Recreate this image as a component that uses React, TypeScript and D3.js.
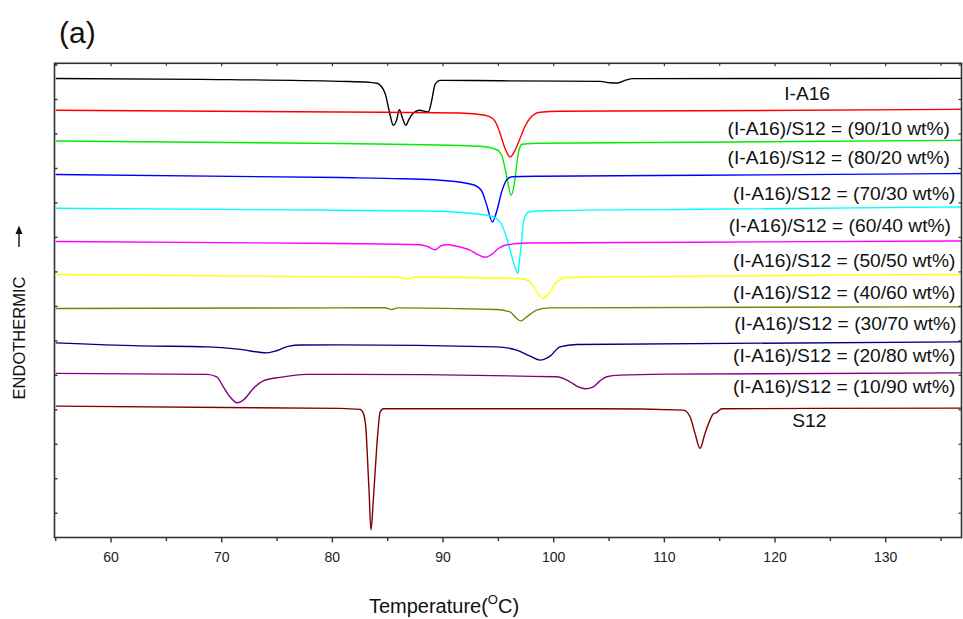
import React from "react";
import * as d3 from "d3";

// ---- Data (Temperature °C, heat flow a.u.) ----
const blackIA16: [number, number][] = [
  [55, 13.61], [68.04, 13.585], [80.69, 13.527], [83.4, 13.498], [84.04, 13.47], [84.76, 13.18],
  [85.12, 12.687], [85.51, 12.252], [85.8, 12.397], [86.05, 12.707], [86.34, 12.455], [86.63, 12.252],
  [86.92, 12.426], [87.32, 12.608], [87.86, 12.687], [88.67, 12.638], [88.98, 12.977], [89.28, 13.44],
  [89.73, 13.556], [95.15, 13.542], [104.19, 13.527], [105.09, 13.484], [105.72, 13.478], [106.44, 13.556],
  [107.17, 13.606], [136.8, 13.614],
];
const red9010: [number, number][] = [
  [55, 12.687], [80.69, 12.638], [91.54, 12.608], [93.8, 12.542], [94.52, 12.44], [94.88, 12.252],
  [95.15, 12.02], [95.6, 11.585], [96.06, 11.333], [96.51, 11.527], [96.96, 11.875], [97.41, 12.223],
  [97.86, 12.455], [98.31, 12.585], [98.77, 12.629], [100.57, 12.658], [113.22, 12.672], [136.8, 12.716],
];
const green8020: [number, number][] = [
  [55, 11.797], [80.69, 11.722], [93.34, 11.643], [94.85, 11.548], [95.3, 11.382], [95.6, 11.006],
  [95.87, 10.571], [96.14, 10.223], [96.42, 10.513], [96.6, 10.948], [96.73, 11.296], [96.91, 11.585],
  [97.14, 11.701], [98.77, 11.73], [113.22, 11.759], [136.8, 11.817],
];
const blue7030: [number, number][] = [
  [55, 10.823], [80.69, 10.736], [86.38, 10.701], [89.73, 10.658], [92.74, 10.527], [93.5, 10.339],
  [93.95, 9.933], [94.46, 9.449], [94.85, 9.759], [95.3, 10.325], [95.76, 10.672], [96.24, 10.759],
  [98.77, 10.774], [113.22, 10.803], [136.8, 10.852],
];
const cyan6040: [number, number][] = [
  [55, 9.846], [80.69, 9.788], [89.73, 9.759], [92.44, 9.701], [94.25, 9.629], [95.15, 9.449],
  [95.76, 8.977], [96.21, 8.455], [96.51, 8.136], [96.75, 7.954], [96.96, 8.484], [97.11, 8.919],
  [97.23, 9.354], [97.51, 9.672], [97.86, 9.745], [99.22, 9.774], [113.22, 9.817], [136.8, 9.884],
];
const magenta5050: [number, number][] = [
  [55, 8.881], [80.69, 8.823], [87.92, 8.788], [88.64, 8.73], [89.28, 8.643], [89.82, 8.759],
  [90.36, 8.788], [91.24, 8.744], [92.44, 8.629], [93.16, 8.498], [93.8, 8.426], [94.43, 8.513],
  [94.97, 8.672], [95.6, 8.773], [97.56, 8.84], [113.22, 8.861], [136.8, 8.898],
];
const yellow4060: [number, number][] = [
  [55, 7.925], [80.69, 7.855], [86.11, 7.846], [86.72, 7.797], [87.29, 7.846], [96.96, 7.808],
  [97.86, 7.71], [98.47, 7.42], [99.06, 7.229], [99.67, 7.42], [100.27, 7.71], [101.18, 7.837],
  [104.19, 7.855], [136.8, 7.925],
];
const olive3070: [number, number][] = [
  [55, 6.939], [80.69, 6.957], [84.76, 6.962], [85.36, 6.91], [85.93, 6.957], [94.85, 6.91],
  [96.05, 6.84], [96.66, 6.649], [97.02, 6.58], [97.56, 6.696], [98.47, 6.89], [99.67, 6.957],
  [136.8, 6.986],
];
const navy2080: [number, number][] = [
  [55, 5.942], [62.62, 5.855], [68.65, 5.826], [71.66, 5.751], [74.07, 5.652], [75.0, 5.72],
  [76.0, 5.84], [77.2, 5.88], [80.69, 5.884], [94.85, 5.826], [96.66, 5.73], [97.86, 5.556], [98.77, 5.44],
  [99.67, 5.556], [100.57, 5.826], [102.08, 5.896], [136.8, 5.971],
];
const purple1090: [number, number][] = [
  [55, 5.055], [68.65, 5.026], [69.55, 4.957], [70.15, 4.667], [70.75, 4.377], [71.41, 4.203],
  [71.95, 4.281], [72.86, 4.62], [73.76, 4.84], [75.27, 4.939], [77.68, 5.026], [80.69, 5.026],
  [100.27, 4.957], [101.47, 4.812], [102.22, 4.667], [102.83, 4.609], [103.58, 4.667], [104.19, 4.84],
  [104.79, 4.957], [105.99, 5.006], [110.21, 5.035], [136.8, 5.072],
];
const darkredS12: [number, number][] = [
  [55, 4.107], [80.69, 4.04], [82.5, 4.011], [82.8, 3.896], [83.04, 3.411], [83.18, 2.542],
  [83.31, 1.672], [83.49, 0.513], [83.7, 1.382], [84.01, 2.928], [84.17, 3.556], [84.31, 3.933],
  [84.61, 4.029], [104.19, 4.029], [111.71, 3.991], [112.32, 3.797], [112.77, 3.315], [113.22, 2.881],
  [113.67, 3.315], [114.12, 3.701], [114.4, 3.875], [114.73, 3.918], [115.18, 4.029], [136.8, 4.049],
];

const seriesData = [blackIA16, red9010, green8020, blue7030, cyan6040, magenta5050, yellow4060, olive3070, navy2080, purple1090, darkredS12];
const seriesColors = ["#000000", "#ff0000", "#00ee00", "#0000ff", "#00ffff", "#ff00ff", "#ffff00", "#808000", "#000080", "#800080", "#800000"];

const labelTexts = [
  "I-A16",
  "(I-A16)/S12 = (90/10 wt%)",
  "(I-A16)/S12 = (80/20 wt%)",
  "(I-A16)/S12 = (70/30 wt%)",
  "(I-A16)/S12 = (60/40 wt%)",
  "(I-A16)/S12 = (50/50 wt%)",
  "(I-A16)/S12 = (40/60 wt%)",
  "(I-A16)/S12 = (30/70 wt%)",
  "(I-A16)/S12 = (20/80 wt%)",
  "(I-A16)/S12 = (10/90 wt%)",
  "S12",
];
const labelLevels = [13.18, 12.165, 11.333, 10.29, 9.354, 8.339, 7.42, 6.504, 5.585, 4.687, 3.701];
const labelTemps = [122.9, 135.8, 135.8, 136.3, 135.9, 136.3, 136.3, 136.4, 136.3, 136.3, 123.1];

const xMajorTicks = [60, 70, 80, 90, 100, 110, 120, 130];
const xMinorTicks = [55, 65, 75, 85, 95, 105, 115, 125, 135];
const yTicks = [1, 2, 3, 4, 5, 6, 7, 8, 9, 10, 11, 12, 13, 14];

const FONT = "'Liberation Sans', Arial, Helvetica, sans-serif";

export default function App() {
  const W = 963, H = 619;
  const left = 54.5, right = 961.5, top = 63.3, bottom = 537.5;
  const x = d3.scaleLinear().domain([54.89, 136.85]).range([left, right]);
  const y = d3.scaleLinear().domain([0.296, 14.05]).range([bottom, top]);
  const line = d3.line<[number, number]>().x(d => x(d[0])).y(d => y(d[1])).curve(d3.curveMonotoneX);
  const axisColor = "#333";

  return (
    <svg width={W} height={H} style={{ position: "absolute", left: 0, top: 0, background: "#fff" }} fontFamily={FONT}>
      <rect x={0} y={0} width={W} height={H} fill="#fff" />
      <defs>
        <clipPath id="clip">
          <rect x={left} y={top} width={right - left} height={bottom - top} />
        </clipPath>
      </defs>
      {/* curves */}
      <g clipPath="url(#clip)">
        {seriesData.map((s, i) => (
          <path key={i} d={line(s) || ""} fill="none" stroke={seriesColors[i]} strokeWidth={1.4} />
        ))}
      </g>
      {/* frame */}
      <rect x={left} y={top} width={right - left} height={bottom - top} fill="none" stroke={axisColor} strokeWidth={1.6} />
      {/* bottom ticks */}
      {xMajorTicks.map(t => (
        <g key={"M" + t}>
          <line x1={x(t)} x2={x(t)} y1={bottom} y2={bottom + 5} stroke={axisColor} strokeWidth={1.4} />
          <line x1={x(t)} x2={x(t)} y1={top} y2={top + 3} stroke={axisColor} strokeWidth={1.2} />
          <text x={x(t)} y={562} fontSize={14} textAnchor="middle" fill="#222">{t}</text>
        </g>
      ))}
      {xMinorTicks.map(t => (
        <g key={"m" + t}>
          <line x1={x(t)} x2={x(t)} y1={bottom} y2={bottom + 3.5} stroke={axisColor} strokeWidth={1.4} />
          <line x1={x(t)} x2={x(t)} y1={top} y2={top + 2.5} stroke={axisColor} strokeWidth={1.2} />
        </g>
      ))}
      {yTicks.map(t => (
        <g key={"y" + t}>
          <line x1={left} x2={left + 3} y1={y(t)} y2={y(t)} stroke={axisColor} strokeWidth={1.4} />
          <line x1={right} x2={right - 3} y1={y(t)} y2={y(t)} stroke={axisColor} strokeWidth={1.2} />
        </g>
      ))}
      {/* curve labels */}
      {labelTexts.map((t, i) => {
        const isName = i === 0 || i === labelTexts.length - 1;
        return (
          <text key={t} x={x(labelTemps[i])} y={y(labelLevels[i])} dy="0.35em"
            fontSize={19.2} textAnchor={isName ? "middle" : "end"} fill="#111">{t}</text>
        );
      })}
      {/* panel letter */}
      <text x={59} y={43} fontSize={30} fill="#111">(a)</text>
      {/* y label */}
      <text transform="translate(25,338) rotate(-90)" fontSize={16.5} textAnchor="middle" fill="#111">ENDOTHERMIC</text>
      <line x1={19} x2={19} y1={247} y2={232} stroke="#111" strokeWidth={1.4} />
      <path d="M15.5,234 L19,225.5 L22.5,234 Z" fill="#111" />
      {/* x label */}
      <text x={444} y={613} fontSize={20} textAnchor="middle" fill="#111">
        Temperature(<tspan fontSize={13} dy={-9}>O</tspan><tspan dy={9}>C)</tspan>
      </text>
    </svg>
  );
}
